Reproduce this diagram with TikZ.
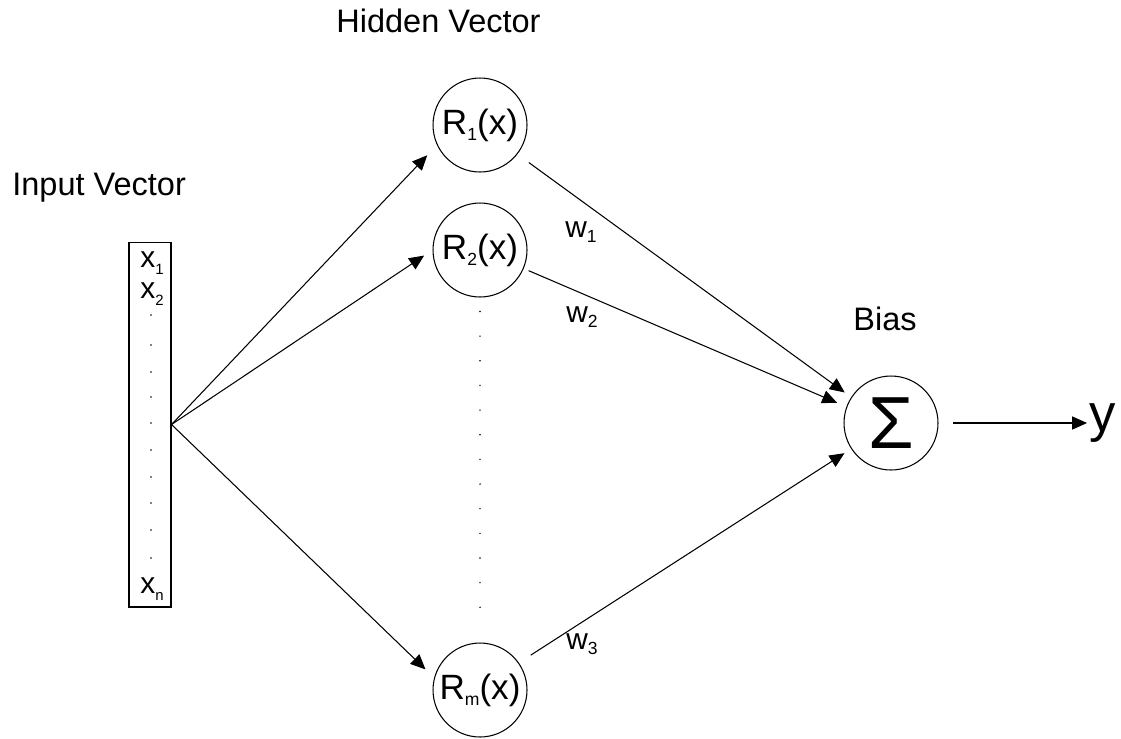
\documentclass[tikz,border=0pt]{standalone}
\usepackage{fontspec}
\setmainfont{Liberation Sans}
\usetikzlibrary{arrows.meta,positioning}
\newcommand\ridx[1]{\raisebox{-0.35ex}{\fontsize{10}{10}\selectfont #1}}
\newcommand\xidx[1]{\raisebox{-0.4ex}{\fontsize{8.5}{8.5}\selectfont #1}}
\tikzset{
  rbf/label/.style={font=\fontsize{18.5}{20}\selectfont, inner sep=0pt, anchor=base west},
  rbf/unit/.style={
    circle,
    draw,
    line width=0.6pt,
    minimum size=1.88cm,
    inner sep=0pt,
    font=\fontsize{20}{22}\selectfont
  },
  rbf/inputbox/.style={
    draw,
    line width=0.6pt,
    minimum width=0.84cm,
    minimum height=7.3cm,
    inner sep=0pt
  },
  rbf/entry/.style={font=\fontsize{17}{18}\selectfont, inner sep=0pt},
  rbf/weight/.style={font=\fontsize{17}{18}\selectfont, inner sep=0pt},
  rbf/arrow/.style={-{Triangle[length=8.5pt,width=7.5pt]}, line width=0.6pt},
  rbf/dots/.style={line width=0.9pt, line cap=round, dash pattern=on 0pt off 14.03pt}
}
\begin{document}
\begin{tikzpicture}[x=0.02cm,y=-0.02cm]
  \useasboundingbox (0,0) rectangle (1121,738);
  % titles
  \node[rbf/label] (hidtitle) at (336,32) {Hidden Vector};
  \node[rbf/label] (inptitle) at (12,195) {Input Vector};
  \node[rbf/label] (biastitle) at (853,330) {Bias};
  % input vector
  \node[rbf/inputbox] (inp) at (150,424.5) {};
  \node[rbf/entry] (x1) at (152,263) {x\xidx{1}};
  \node[rbf/entry] (x2) at (152,294) {x\xidx{2}};
  \node[rbf/entry] (xn) at (152,589) {x\xidx{n}};
  \foreach \yy in {315,345,372,397,423,450,477,503,530,558}
    \fill (151,\yy) circle (0.5pt);
  % hidden units
  \node[rbf/unit] (r1) at (480,125) {R\ridx{1}(x)};
  \node[rbf/unit] (r2) at (480,250) {R\ridx{2}(x)};
  \node[rbf/unit] (rm) at (480,690) {R\ridx{m}(x)};
  \draw[rbf/dots, shorten <=7.94pt, shorten >=19.85pt] (r2.south) -- (rm.north);
  % output
  \node[rbf/unit, font=\fontsize{42}{44}\selectfont] (sum) at (891,423) {Σ};
  \node[font=\fontsize{30}{32}\selectfont, inner sep=1pt, anchor=west] (y) at (1087,423) {y};
  % connectors
  \draw[rbf/arrow, shorten >=8pt] (inp.east) -- (r1.205);
  \draw[rbf/arrow, shorten >=5.7pt] (inp.east) -- (r2.west);
  \draw[rbf/arrow, shorten >=6.8pt] (inp.east) -- (rm.165);
  \draw[rbf/arrow, shorten <=8pt, shorten >=4.5pt] (r1.-38) -- (sum.147);
  \draw[rbf/arrow, shorten <=3pt, shorten >=5.7pt] (r2.-23) -- (sum.160);
  \draw[rbf/arrow, shorten <=8pt, shorten >=4.5pt] (rm.35) -- (sum.213);
  \draw[rbf/arrow, shorten <=8.5pt] (sum.east) -- (y.west);
  % weights
  \node[rbf/weight] (w1) at (581,232) {w\ridx{1}};
  \node[rbf/weight] (w2) at (582,317) {w\ridx{2}};
  \node[rbf/weight] (w3) at (582,644) {w\ridx{3}};
\end{tikzpicture}
\end{document}
